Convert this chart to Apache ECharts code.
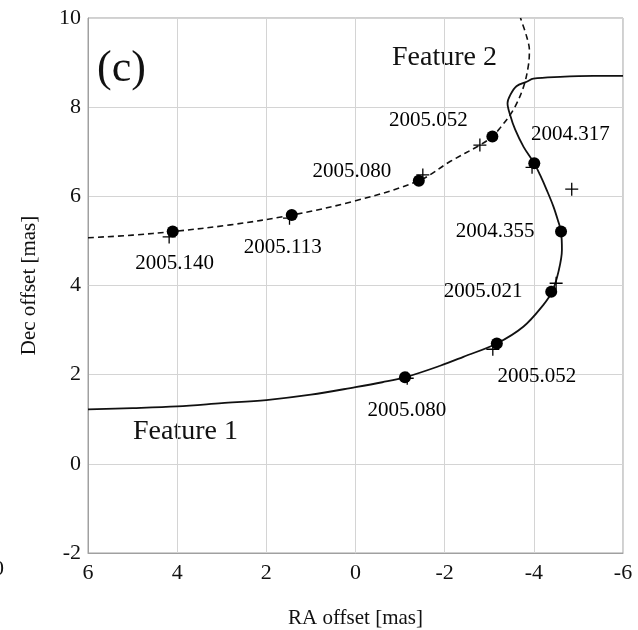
<!DOCTYPE html>
<html>
<head>
<meta charset="utf-8">
<script src="https://cdn.jsdelivr.net/npm/echarts@6/dist/echarts.min.js"></script>
<style>
  html, body { margin: 0; padding: 0; background: #fff; }
  #chart { width: 638px; height: 630px; }
</style>
</head>
<body>
<div id="chart"></div>
<script>
// Feature 1: measured positions (dots) and epochs
const f1Epochs = ['2004.317', '2004.355', '2005.021', '2005.052', '2005.080'];
const f1RA = [-4.01, -4.61, -4.39, -3.17, -1.11];
const f1Dec = [6.74, 5.21, 3.86, 2.70, 1.94];
// Feature 1: model positions (crosses)
const f1CrossRA = [-3.96, -4.85, -4.50, -3.08, -1.16];
const f1CrossDec = [6.65, 6.16, 4.05, 2.57, 1.92];
// Feature 1: model track (solid)
const f1TrackRA = [6.0, 5.0, 4.0, 3.0, 2.0, 1.0, 0.0, -0.6, -1.11, -1.9, -2.42, -3.17, -3.77, -4.21, -4.41, -4.55, -4.63, -4.61, -4.55, -4.44, -4.29, -4.14, -4.01, -3.77, -3.58, -3.47, -3.41, -3.47, -3.61, -3.84, -3.99, -4.59, -5.34, -6.0];
const f1TrackDec = [1.22, 1.25, 1.29, 1.36, 1.43, 1.55, 1.72, 1.83, 1.94, 2.20, 2.40, 2.70, 3.08, 3.56, 3.86, 4.30, 4.80, 5.21, 5.43, 5.77, 6.14, 6.48, 6.74, 7.11, 7.50, 7.82, 8.09, 8.27, 8.47, 8.57, 8.64, 8.68, 8.70, 8.70];

// Feature 2: measured positions (dots) and epochs
const f2Epochs = ['2005.052', '2005.080', '2005.113', '2005.140'];
const f2RA = [-3.07, -1.42, 1.43, 4.10];
const f2Dec = [7.34, 6.35, 5.58, 5.21];
// Feature 2: model positions (crosses)
const f2CrossRA = [-2.79, -1.51, 1.48, 4.18];
const f2CrossDec = [7.15, 6.48, 5.51, 5.09];
// Feature 2: model track (dashed)
const f2TrackRA = [6.0, 5.0, 4.10, 2.81, 1.43, 0.0, -1.42, -2.12, -2.79, -3.07, -3.24, -3.54, -3.77, -3.88, -3.90, -3.84, -3.70];
const f2TrackDec = [5.07, 5.13, 5.21, 5.36, 5.58, 5.90, 6.35, 6.78, 7.15, 7.34, 7.53, 7.94, 8.46, 8.95, 9.28, 9.58, 10.0];

// Axis ticks
const xTicks = [6, 4, 2, 0, -2, -4, -6];
const yTicks = [-2, 0, 2, 4, 6, 8, 10];

// Label placement (pixel offsets from each dot)
const f1LabelOffsets = [[36, -29], [-66, 0], [-68, 0], [40, 33], [2, 33]];
const f2LabelOffsets = [[-64, -16], [-67, -9], [-9, 32], [2, 32]];

const SERIF = '"Liberation Serif", "DejaVu Serif", serif';
const zip = (a, b) => a.map((v, i) => [v, b[i]]);
const crossPath = 'path://M6.3,0h1.4v14h-1.4z M0,6.3h14v1.4h-14z';

function dotSeries(ra, dec, epochs, offsets) {
  return {
    type: 'scatter',
    symbol: 'circle',
    symbolSize: 12,
    itemStyle: { color: '#000', opacity: 1 },
    z: 4,
    data: ra.map((x, i) => ({
      name: epochs[i],
      value: [x, dec[i]],
      label: { offset: offsets[i] }
    })),
    label: {
      show: true,
      position: 'inside',
      formatter: p => p.name,
      fontFamily: SERIF,
      fontSize: 21,
      color: '#000',
      textBorderWidth: 0,
      textShadowBlur: 0
    }
  };
}

function crossSeries(ra, dec) {
  return {
    type: 'scatter',
    symbol: crossPath,
    symbolSize: 13,
    itemStyle: { color: '#000', opacity: 1 },
    z: 5,
    data: zip(ra, dec)
  };
}

const chart = echarts.init(document.getElementById('chart'));
chart.setOption({
  animation: false,
  backgroundColor: '#fff',
  grid: { left: 88, right: 15, top: 18, bottom: 77, outerBoundsMode: 'none', containLabel: false,
          show: true, borderColor: '#a0a0a0', borderWidth: 1 },
  xAxis: {
    type: 'value', min: -6, max: 6, interval: 2, inverse: true,
    name: 'RA offset [mas]', nameLocation: 'middle', nameGap: 55,
    nameTextStyle: { fontFamily: SERIF, fontSize: 21, color: '#111' },
    axisLine: { show: true, onZero: false, lineStyle: { color: '#a0a0a0' } },
    axisTick: { show: false },
    axisLabel: { fontFamily: SERIF, fontSize: 22, color: '#111', margin: 9,
      formatter: v => xTicks.includes(v) ? String(v) : '' },
    splitLine: { show: true, lineStyle: { color: '#d4d4d4', width: 1 } }
  },
  yAxis: {
    type: 'value', min: -2, max: 10, interval: 2,
    name: 'Dec offset [mas]', nameLocation: 'middle', nameGap: 48,
    nameTextStyle: { fontFamily: SERIF, fontSize: 21, color: '#111' },
    axisLine: { show: true, onZero: false, lineStyle: { color: '#a0a0a0' } },
    axisTick: { show: false },
    axisLabel: { fontFamily: SERIF, fontSize: 22, color: '#111', margin: 7,
      formatter: v => yTicks.includes(v) ? String(v) : '' },
    splitLine: { show: true, lineStyle: { color: '#d4d4d4', width: 1 } }
  },
  series: [
    {
      type: 'line', name: 'Feature 1 track', data: zip(f1TrackRA, f1TrackDec),
      smooth: 0.35, showSymbol: false, symbol: 'none', clip: true, z: 3,
      lineStyle: { color: '#111', width: 1.8, type: 'solid' }
    },
    {
      type: 'line', name: 'Feature 2 track', data: zip(f2TrackRA, f2TrackDec),
      smooth: 0.35, showSymbol: false, symbol: 'none', clip: true, z: 3,
      lineStyle: { color: '#111', width: 1.6, type: [6, 4] }
    },
    dotSeries(f1RA, f1Dec, f1Epochs, f1LabelOffsets),
    dotSeries(f2RA, f2Dec, f2Epochs, f2LabelOffsets),
    crossSeries(f1CrossRA, f1CrossDec),
    crossSeries(f2CrossRA, f2CrossDec)
  ],
  graphic: [
    { type: 'text', left: 97, top: 47, style: { text: '(c)', font: '44px ' + SERIF, fill: '#111' } },
    { type: 'text', left: 392, top: 44, style: { text: 'Feature 2', font: '28px ' + SERIF, fill: '#111' } },
    { type: 'text', left: 133, top: 418, style: { text: 'Feature 1', font: '28px ' + SERIF, fill: '#111' } },
    { type: 'text', left: -7, top: 558, style: { text: '0', font: '22px ' + SERIF, fill: '#111' } }
  ]
});
</script>
</body>
</html>
